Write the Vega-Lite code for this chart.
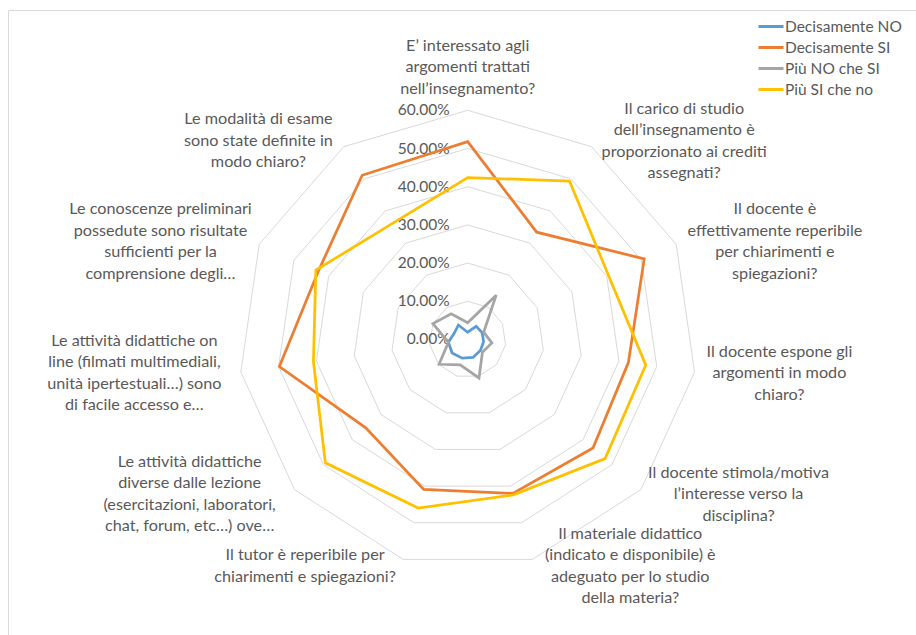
{
  "$schema": "https://vega.github.io/schema/vega-lite/v6.json",
  "autosize": {"type": "none"},
  "padding": {"left": 8, "top": 10, "right": 0, "bottom": 0},
  "width": 908,
  "height": 625,
  "background": "white",
  "config": {
    "view": {"stroke": "#d9d9d9", "strokeWidth": 1},
    "font": "Lato"
  },
  "datasets": {
    "answers": [
      {"idx": 0, "series": "Decisamente NO", "value": 0.019},
      {"idx": 1, "series": "Decisamente NO", "value": 0.041},
      {"idx": 2, "series": "Decisamente NO", "value": 0.042},
      {"idx": 3, "series": "Decisamente NO", "value": 0.042},
      {"idx": 4, "series": "Decisamente NO", "value": 0.044},
      {"idx": 5, "series": "Decisamente NO", "value": 0.049},
      {"idx": 6, "series": "Decisamente NO", "value": 0.051},
      {"idx": 7, "series": "Decisamente NO", "value": 0.054},
      {"idx": 8, "series": "Decisamente NO", "value": 0.051},
      {"idx": 9, "series": "Decisamente NO", "value": 0.039},
      {"idx": 10, "series": "Decisamente NO", "value": 0.045},
      {"idx": 0, "series": "Decisamente SI", "value": 0.518},
      {"idx": 1, "series": "Decisamente SI", "value": 0.334},
      {"idx": 2, "series": "Decisamente SI", "value": 0.508},
      {"idx": 3, "series": "Decisamente SI", "value": 0.425},
      {"idx": 4, "series": "Decisamente SI", "value": 0.434},
      {"idx": 5, "series": "Decisamente SI", "value": 0.420},
      {"idx": 6, "series": "Decisamente SI", "value": 0.409},
      {"idx": 7, "series": "Decisamente SI", "value": 0.353},
      {"idx": 8, "series": "Decisamente SI", "value": 0.498},
      {"idx": 9, "series": "Decisamente SI", "value": 0.430},
      {"idx": 10, "series": "Decisamente SI", "value": 0.511},
      {"idx": 0, "series": "Più NO che SI", "value": 0.044},
      {"idx": 1, "series": "Più NO che SI", "value": 0.138},
      {"idx": 2, "series": "Più NO che SI", "value": 0.046},
      {"idx": 3, "series": "Più NO che SI", "value": 0.064},
      {"idx": 4, "series": "Più NO che SI", "value": 0.051},
      {"idx": 5, "series": "Più NO che SI", "value": 0.105},
      {"idx": 6, "series": "Più NO che SI", "value": 0.069},
      {"idx": 7, "series": "Più NO che SI", "value": 0.099},
      {"idx": 8, "series": "Più NO che SI", "value": 0.051},
      {"idx": 9, "series": "Più NO che SI", "value": 0.100},
      {"idx": 10, "series": "Più NO che SI", "value": 0.080},
      {"idx": 0, "series": "Più SI che no", "value": 0.424},
      {"idx": 1, "series": "Più SI che no", "value": 0.493},
      {"idx": 2, "series": "Più SI che no", "value": 0.405},
      {"idx": 3, "series": "Più SI che no", "value": 0.471},
      {"idx": 4, "series": "Più SI che no", "value": 0.476},
      {"idx": 5, "series": "Più SI che no", "value": 0.424},
      {"idx": 6, "series": "Più SI che no", "value": 0.460},
      {"idx": 7, "series": "Più SI che no", "value": 0.493},
      {"idx": 8, "series": "Più SI che no", "value": 0.408},
      {"idx": 9, "series": "Più SI che no", "value": 0.437},
      {"idx": 10, "series": "Più SI che no", "value": 0.362}
    ],
    "rings": [
      {"level": 0.1, "idx": [0, 1, 2, 3, 4, 5, 6, 7, 8, 9, 10]},
      {"level": 0.2, "idx": [0, 1, 2, 3, 4, 5, 6, 7, 8, 9, 10]},
      {"level": 0.3, "idx": [0, 1, 2, 3, 4, 5, 6, 7, 8, 9, 10]},
      {"level": 0.4, "idx": [0, 1, 2, 3, 4, 5, 6, 7, 8, 9, 10]},
      {"level": 0.5, "idx": [0, 1, 2, 3, 4, 5, 6, 7, 8, 9, 10]},
      {"level": 0.6, "idx": [0, 1, 2, 3, 4, 5, 6, 7, 8, 9, 10]}
    ],
    "ticks": [
      {"level": 0}, {"level": 0.1}, {"level": 0.2}, {"level": 0.3},
      {"level": 0.4}, {"level": 0.5}, {"level": 0.6}
    ],
    "cats": [
      {"idx": 0, "t": "E’ interessato agli\nargomenti trattati\nnell’insegnamento?"},
      {"idx": 1, "t": "Il carico di studio\ndell’insegnamento è\nproporzionato ai crediti\nassegnati?"},
      {"idx": 2, "t": "Il docente è\neffettivamente reperibile\nper chiarimenti e\nspiegazioni?"},
      {"idx": 3, "t": "Il docente espone gli\nargomenti in modo\nchiaro?"},
      {"idx": 4, "t": "Il docente stimola/motiva\nl’interesse verso la\ndisciplina?"},
      {"idx": 5, "t": "Il materiale didattico\n(indicato e disponibile) è\nadeguato per lo studio\ndella materia?"},
      {"idx": 6, "t": "Il tutor è reperibile per\nchiarimenti e spiegazioni?"},
      {"idx": 7, "t": "Le attività didattiche\ndiverse dalle lezione\n(esercitazioni, laboratori,\nchat, forum, etc…) ove…"},
      {"idx": 8, "t": "Le attività didattiche on\nline (filmati multimediali,\nunità ipertestuali…) sono\ndi facile accesso e…"},
      {"idx": 9, "t": "Le conoscenze preliminari\npossedute sono risultate\nsufficienti per la\ncomprensione degli…"},
      {"idx": 10, "t": "Le modalità di esame\nsono state definite in\nmodo chiaro?"}
    ]
  },
  "layer": [
    {
      "data": {"name": "rings"},
      "transform": [
        {"flatten": ["idx"]},
        {"calculate": "datum.idx * 2 * PI / 11", "as": "a"},
        {"calculate": "datum.level * sin(datum.a)", "as": "px"},
        {"calculate": "datum.level * cos(datum.a)", "as": "py"}
      ],
      "mark": {"type": "line", "interpolate": "linear-closed", "stroke": "#d9d9d9", "strokeWidth": 1},
      "encoding": {
        "x": {"field": "px", "type": "quantitative", "scale": {"domain": [-1.2034, 1.1736], "nice": false, "zero": false}, "axis": null},
        "y": {"field": "py", "type": "quantitative", "scale": {"domain": [-0.7736, 0.8626], "nice": false, "zero": false}, "axis": null},
        "detail": {"field": "level", "type": "nominal"},
        "order": {"field": "idx", "type": "quantitative"}
      }
    },
    {
      "data": {"name": "ticks"},
      "mark": {"type": "text", "align": "right", "baseline": "middle", "dx": -18, "fontSize": 15.5, "fill": "#595959", "font": "Lato"},
      "encoding": {
        "x": {"datum": 0, "type": "quantitative", "scale": {"domain": [-1.2034, 1.1736], "nice": false, "zero": false}, "axis": null},
        "y": {"field": "level", "type": "quantitative", "scale": {"domain": [-0.7736, 0.8626], "nice": false, "zero": false}, "axis": null},
        "text": {"field": "level", "type": "quantitative", "format": ".2%"}
      }
    },
    {
      "data": {"name": "answers"},
      "transform": [
        {"calculate": "datum.idx * 2 * PI / 11", "as": "a"},
        {"calculate": "datum.value * sin(datum.a)", "as": "px"},
        {"calculate": "datum.value * cos(datum.a)", "as": "py"}
      ],
      "mark": {"type": "line", "interpolate": "linear-closed", "strokeWidth": 2.75},
      "encoding": {
        "x": {"field": "px", "type": "quantitative", "scale": {"domain": [-1.2034, 1.1736], "nice": false, "zero": false}, "axis": null},
        "y": {"field": "py", "type": "quantitative", "scale": {"domain": [-0.7736, 0.8626], "nice": false, "zero": false}, "axis": null},
        "color": {
          "field": "series",
          "type": "nominal",
          "scale": {
            "domain": ["Decisamente NO", "Decisamente SI", "Più NO che SI", "Più SI che no"],
            "range": ["#5B9BD5", "#ED7D31", "#A5A5A5", "#FFC000"]
          },
          "legend": {
            "title": null,
            "orient": "none",
            "legendX": 749,
            "legendY": 6,
            "symbolType": "stroke",
            "symbolSize": 625,
            "symbolStrokeWidth": 3,
            "clipHeight": 21,
            "labelFont": "Lato",
            "labelFontSize": 15.5,
            "labelColor": "#595959",
            "labelOffset": 0,
            "rowPadding": 0
          }
        },
        "order": {"field": "idx", "type": "quantitative"}
      }
    },
    {
      "data": {"name": "cats"},
      "transform": [
        {"calculate": "datum.idx * 2 * PI / 11", "as": "a"},
        {"calculate": "split(datum.t, '\\n')", "as": "lines"},
        {"calculate": "length(datum.lines)", "as": "n"},
        {"calculate": "max(length(datum.lines[0]), length(datum.lines[1] || ''), length(datum.lines[2] || ''), length(datum.lines[3] || ''))", "as": "m"},
        {"calculate": "0.6178 * sin(datum.a) + (abs(sin(datum.a)) > 0.05 ? (sin(datum.a) > 0 ? 1 : -1) * (datum.m * 3.6 + 2.5) / 382 : 0)", "as": "px"},
        {"calculate": "0.6178 * cos(datum.a) + (datum.n - 1) * 10.75 / 382 + (abs(sin(datum.a)) > 0.05 ? 0 : (cos(datum.a) > 0 ? 1 : -1) * (datum.n * 10.75 + 4) / 382)", "as": "py"}
      ],
      "mark": {"type": "text", "align": "center", "baseline": "middle", "lineBreak": "\n", "lineHeight": 21.5, "fontSize": 16.2, "fill": "#595959", "font": "Lato"},
      "encoding": {
        "x": {"field": "px", "type": "quantitative", "scale": {"domain": [-1.2034, 1.1736], "nice": false, "zero": false}, "axis": null},
        "y": {"field": "py", "type": "quantitative", "scale": {"domain": [-0.7736, 0.8626], "nice": false, "zero": false}, "axis": null},
        "text": {"field": "t", "type": "nominal"}
      }
    }
  ]
}
